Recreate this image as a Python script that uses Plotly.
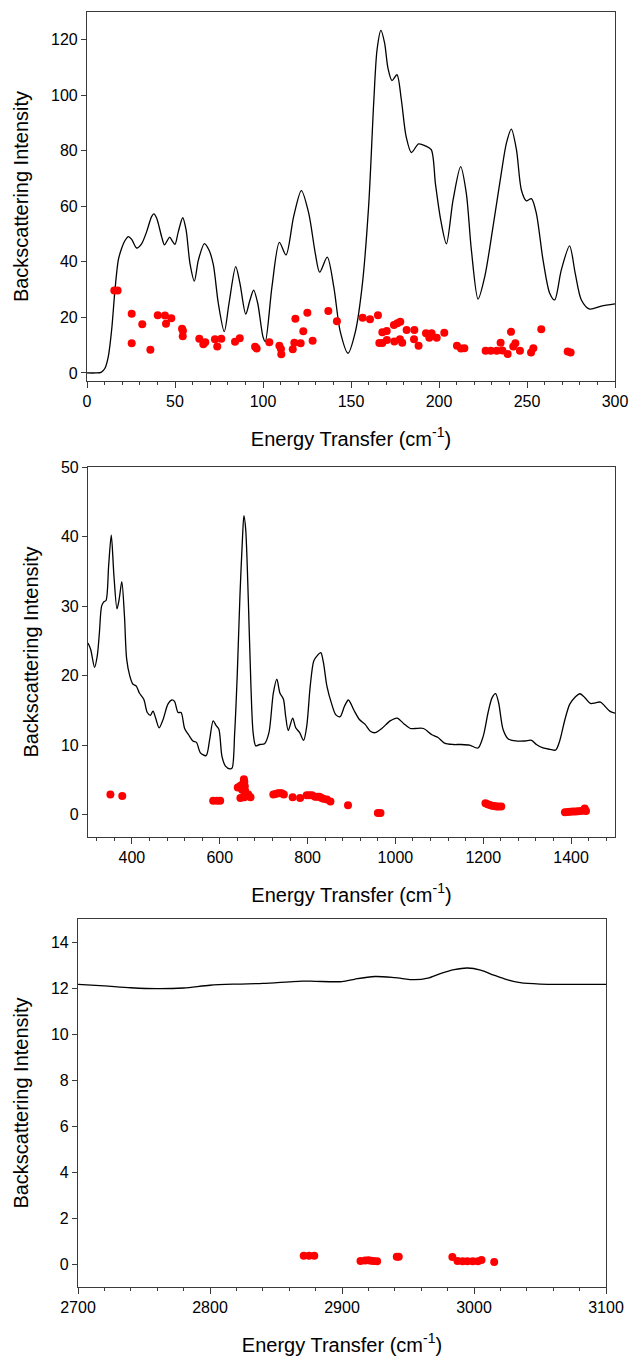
import plotly.graph_objects as go

# ---------------- Panel 1: 0-300 cm-1 ----------------
low_x = [0, 5, 8, 10.2, 12.1, 14, 15.9, 17.8, 19.7, 21.6, 23.5, 25.4, 28.2, 31, 33.9, 36.7, 38, 39.6,
         42.4, 44, 45.6, 47, 48.5, 50, 51.9, 54.4, 56.3, 58.5, 61, 63.3, 66.7, 69.3, 71.8, 74.6, 78,
         80.7, 84.5, 86.9, 90.2, 92.6, 94.7, 97, 100, 101.3, 105.1, 109.3, 113.1, 117.4, 121.8, 126,
         129.7, 132.2, 136.5, 140.2, 143.9, 148.3, 152.5, 156.3, 160, 162.9, 164.8, 167, 169.1, 171,
         173.3, 176.1, 178.6, 181.3, 184.3, 188.4, 192.2, 195.6, 198, 201, 204.2, 208, 212.3, 215.5,
         218.4, 222.2, 226, 230.7, 235.4, 238.3, 241.1, 244, 246.8, 249.6, 252.5, 255.3, 259.1, 262.9,
         265.7, 269.5, 274.2, 277.4, 280.9, 285.6, 292.2, 300]
low_y = [0, 0, 0.2, 1.7, 5.9, 15.5, 29.9, 40.7, 44.9, 47.7, 49.1, 48.1, 45, 46.5, 50.9, 56.3, 57.3, 55.7,
         49.1, 46.1, 47.7, 48.9, 47.5, 46.3, 50.9, 55.9, 51.5, 39.5, 33.1, 40.7, 46.6, 44.3, 38.9, 25.1,
         14.9, 25.1, 38.3, 32.3, 21.2, 26.3, 29.8, 25.1, 13, 11.3, 31.1, 47, 42.5, 56.3, 65.7, 57.5,
         43.1, 36.3, 41.7, 31.1, 14.9, 7.1, 14.9, 31.1, 59.9, 97.2, 116.4, 123.4, 118.8, 109.8,
         105.3, 107.4, 98.4, 85.2, 79.4, 82.5, 81.8, 80.4, 68, 55, 46.5, 62.3, 74.3, 64.8,
         44.3, 26.6, 34.7, 52.7, 72, 82.8, 87.8, 80.4, 65.9, 62, 62.8, 57.5, 40.7, 28.7,
         26.3, 37.1, 45.8, 35.9, 26.3, 23, 24.1, 24.9]

low_pts_x = [15.5, 17.4, 25.4, 25.4, 31.4, 36, 40.2, 44.3, 44.9, 47.9, 54, 54.5, 54.4, 63.8, 66.1, 67.2,
             72.7, 74, 76.3, 84.1, 86.8, 95.5, 96.4, 103.6, 109.3, 110.2, 110.4, 116.9, 117.8, 121.4,
             118.4, 122.9, 125.2, 128.2, 137.1, 142, 156.6, 160.8, 165.3, 167.8, 170.3, 166.1, 167.8,
             170.4, 174.4, 176.3, 178, 174.6, 177.8, 179.1, 181.6, 186, 185.8, 188.4, 192.6, 194.5,
             195.8, 198.7, 203, 210.2, 212.5, 214.4, 226.5, 229.4, 232.8, 235, 236, 239, 240.9, 242.2,
             243.4, 246, 252.3, 253.6, 258.1, 273.1, 274.8]
low_pts_y = [29.7, 29.7, 21.3, 10.7, 17.5, 8.4, 20.8, 20.7, 17.7, 19.7, 15.9, 15.2, 13.2, 12.3, 10.3, 11.1,
             12.1, 9.5, 12.3, 11.2, 12.5, 9.4, 8.8, 11.1, 9.8, 8.6, 6.7, 8.5, 10.9, 10.7,
             19.5, 15, 21.7, 11.6, 22.3, 18.6, 19.9, 19.3, 20.8, 14.7, 15.1, 10.8, 10.8,
             11.9, 17.3, 17.9, 18.4, 11.3, 12.1, 10.9, 15.5, 15.5, 12.1, 9.8, 14.3, 12.7,
             14.3, 12.7, 14.5, 9.8, 8.8, 8.9, 8, 8, 8, 10.9, 8.1, 6.8, 14.8, 9.5,
             10.7, 8, 7.4, 8.9, 15.7, 7.7, 7.4]

# ---------------- Panel 2: 300-1500 cm-1 ----------------
mid_x = [300, 306, 315, 321, 326, 331, 336, 341, 347, 353, 359, 366, 371, 377, 383, 388, 395, 402, 410,
         417, 427, 435, 442, 448, 454, 462, 471, 482, 491, 497, 505, 512, 520, 529, 539, 547, 556, 569,
         577, 585, 592, 598, 605, 613, 623, 628, 634, 640, 646, 652, 655, 659, 665, 671, 676, 682, 691,
         702, 712, 722, 730, 737, 745, 750, 756, 766, 773, 782, 791, 798, 806, 814, 821, 830, 836, 844,
         855, 864, 874, 884, 893, 905, 918, 931, 943, 954, 969, 988, 1004, 1019, 1034, 1045, 1064,
         1083, 1097, 1112, 1131, 1150, 1169, 1188, 1200, 1211, 1220, 1228, 1235, 1245, 1257, 1276,
         1295, 1310, 1321, 1336, 1352, 1365, 1374, 1386, 1397, 1409, 1420, 1432, 1444, 1456, 1467,
         1477, 1488, 1500]
mid_y = [24.7, 23.8, 21.2, 22.8, 26.2, 30, 30.6, 30.8, 35.8, 40.2, 34.4, 29.6, 31, 33.5, 28.6, 22.4, 20,
         18.8, 18.5, 17.5, 16.6, 14.7, 14.3, 14.9, 13.9, 12.5, 13.7, 15.9, 16.5, 16.3, 14.7, 14.7, 12.4,
         11.5, 10.6, 10.4, 8.9, 8.5, 10.8, 13.5, 12.8, 12.3, 8.4, 7, 6.6, 6.7, 11.8, 20.4, 31.5, 40.1,
         43, 41.1, 31, 18.5, 11.8, 9.9, 10.1, 10.2, 11.8, 17.5, 19.5, 17.5, 16.6, 14.2, 12.1, 13.9,
         12.5, 11.8, 10.7, 12.7, 18.5, 22.1, 22.8, 23.3, 21.9, 18.5, 15.9, 14.4, 14.1, 15.6, 16.5,
         15.1, 13.7, 13, 12, 11.8, 12.4, 13.5, 13.9, 13.1, 12.4, 12.4, 12.4, 11.5, 11.1, 10.3, 10.1,
         10.1, 10, 9.6, 11.3, 14.7, 16.8, 17.4, 16.1, 12.3, 10.9, 10.6, 10.6, 10.7, 10.1, 9.6, 9.4,
         9.3, 10.6, 13.7, 15.9, 16.9, 17.4, 16.8, 16, 16.1, 16.2, 15.6, 14.9, 14.6]

mid_pts_x = [351, 378, 585, 594, 601, 641, 644, 647, 648, 651, 654, 655, 656, 657, 657, 658, 656, 660,
             665, 670, 722, 727, 732, 737, 741, 746, 766, 783, 798, 804, 810, 817, 822, 827, 832, 836,
             844, 852, 892, 960, 966, 1205, 1210, 1215, 1220, 1225, 1230, 1235, 1241, 1386, 1392,
             1398, 1404, 1410, 1416, 1422, 1428, 1431, 1434]
mid_pts_y = [2.9, 2.7, 2.0, 2.0, 2.0, 3.9, 4.0, 2.4, 4.2, 3.6, 4.6, 5.1, 4.7, 4.1, 3.1, 3.4, 2.5, 2.8,
             2.9, 2.5, 2.9, 3.0, 3.1, 3.1, 3.1, 2.9, 2.5, 2.4, 2.8, 2.8, 2.8, 2.6, 2.6, 2.6, 2.4, 2.3,
             2.2, 1.9, 1.35, 0.25, 0.25, 1.65, 1.5, 1.4, 1.3, 1.25, 1.2, 1.2, 1.2, 0.35, 0.38,
             0.42, 0.45, 0.47, 0.5, 0.55, 0.6, 0.9, 0.55]

# ---------------- Panel 3: 2700-3100 cm-1 ----------------
high_x = [2700, 2720, 2740, 2760, 2780, 2800, 2820, 2840, 2860, 2870, 2880, 2900, 2910, 2925, 2940,
          2955, 2965, 2975, 2985, 2995, 3005, 3015, 3025, 3035, 3050, 3070, 3100]
high_y = [12.16, 12.09, 12.01, 11.97, 12.0, 12.12, 12.17, 12.2, 12.27, 12.3, 12.29, 12.28, 12.39, 12.5,
          12.45, 12.36, 12.43, 12.64, 12.8, 12.87, 12.78, 12.56, 12.36, 12.23, 12.17, 12.16, 12.16]

high_pts_x = [2871, 2875, 2879, 2914, 2917.5, 2920, 2922, 2924, 2926.6, 2941.5, 2943, 2983.6, 2987.5,
              2991.4, 2995, 2999, 3003, 3005.7, 3015.3]
high_pts_y = [0.36, 0.36, 0.36, 0.13, 0.15, 0.16, 0.14, 0.13, 0.12, 0.32, 0.32, 0.3, 0.13,
              0.12, 0.12, 0.12, 0.12, 0.17, 0.09]

# ---------------- figure ----------------
W, H = 632, 1359
FONT = "Liberation Sans, Arial, sans-serif"
AXIS_COLOR = "#3a3a3a"
X_TITLE = "Energy Transfer (cm<sup>-1</sup>)"
Y_TITLE = "Backscattering Intensity"
TITLE_FONT = dict(family=FONT, size=20, color="black")
TICK_FONT = dict(family=FONT, size=16, color="black")

fig = go.Figure()

panels = [
    (low_x, low_y, low_pts_x, low_pts_y, "x", "y"),
    (mid_x, mid_y, mid_pts_x, mid_pts_y, "x2", "y2"),
    (high_x, high_y, high_pts_x, high_pts_y, "x3", "y3"),
]
for lx, ly, px, py, xa, ya in panels:
    fig.add_trace(go.Scatter(x=lx, y=ly, mode="lines", xaxis=xa, yaxis=ya,
                             line=dict(color="black", width=1.3, shape="spline", smoothing=0.8),
                             hoverinfo="skip"))
    fig.add_trace(go.Scatter(x=px, y=py, mode="markers", xaxis=xa, yaxis=ya,
                             marker=dict(color="#ff0000", size=8, line=dict(width=0))))


def px_dom_x(a, b):
    return [a / W, b / W]


def px_dom_y(top, bottom):
    return [1 - bottom / H, 1 - top / H]


def x_axis(dom, rng, dtick, minor_dtick, anchor):
    return dict(domain=dom, range=rng, anchor=anchor, dtick=dtick, tick0=0, automargin=False,
                showline=True, linecolor=AXIS_COLOR, linewidth=1.2, mirror=True,
                ticks="outside", ticklen=6, tickcolor=AXIS_COLOR, tickwidth=1,
                minor=dict(ticks="outside", dtick=minor_dtick, tick0=0, ticklen=3,
                           tickcolor=AXIS_COLOR, tickwidth=1, showgrid=False),
                showgrid=False, zeroline=False, tickfont=TICK_FONT,
                title=dict(text=X_TITLE, font=TITLE_FONT, standoff=22))


def y_axis(dom, rng, dtick, anchor):
    return dict(domain=dom, range=rng, anchor=anchor, dtick=dtick, tick0=0, automargin=False,
                showline=True, linecolor=AXIS_COLOR, linewidth=1.2, mirror=True,
                ticks="outside", ticklen=5, tickcolor=AXIS_COLOR, tickwidth=1,
                showgrid=False, zeroline=False, tickfont=TICK_FONT,
                title=dict(text=Y_TITLE, font=TITLE_FONT, standoff=16))


p1x, p1y = px_dom_x(87, 615), px_dom_y(12, 381)
p2x, p2y = px_dom_x(88, 615), px_dom_y(467, 837)
p3x, p3y = px_dom_x(78, 606), px_dom_y(919, 1287)

fig.update_layout(
    width=W, height=H,
    margin=dict(l=0, r=0, t=0, b=0, autoexpand=False),
    paper_bgcolor="white", plot_bgcolor="white",
    showlegend=False,
    font=dict(family=FONT, color="black"),
    xaxis=x_axis(p1x, [0, 300], 50, 10, "y"),
    yaxis=y_axis(p1y, [-2.9, 130], 20, "x"),
    xaxis2=x_axis(p2x, [300, 1500], 200, 40, "y2"),
    yaxis2=y_axis(p2y, [-3.2, 50], 10, "x2"),
    xaxis3=x_axis(p3x, [2700, 3100], 100, 20, "y3"),
    yaxis3=y_axis(p3y, [-1, 15], 2, "x3"),
)

fig.write_html("out.html")
